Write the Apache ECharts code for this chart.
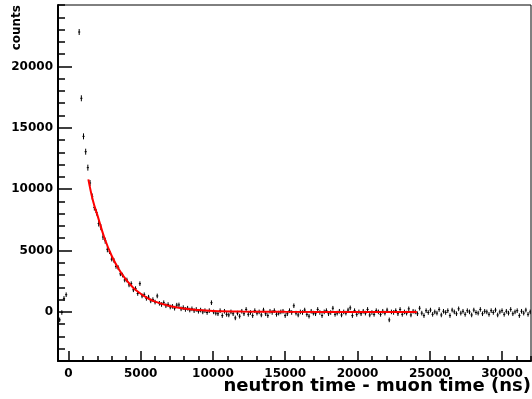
<!DOCTYPE html>
<html>
<head>
<meta charset="utf-8">
<script src="https://cdn.jsdelivr.net/npm/echarts@6/dist/echarts.min.js"></script>
<style>
  html, body { margin: 0; padding: 0; background: #fff; }
  #chart { width: 532px; height: 399px; }
</style>
</head>
<body>
<div id="chart"></div>
<script>
// histogram bins: centre of bin i = binStart + i * binWidth
var binStart = -605;
var binWidth = 150;

// counts per bin (null = off scale, above the frame)
var counts = [
  -650, -50, 1100, 1400, null, null, null, null, null, 22800, 17400, 14300, 13050, 11750, 10500,
  9400, 8500, 8100, 7200, 6900, 6100, 5800, 5100, 4900, 4300, 4200, 3700, 3600, 3100, 3000,
  2600, 2600, 2200, 2300, 1800, 1900, 1500, 2300, 1300, 1400, 1100, 1200, 900, 1000, 800,
  1300, 700, 600, 750, 500, 600, 400, 450, 300, 550, 570, 250, 350, 200, 300,
  150, 250, 100, 200, 50, 150, 0, 100, -50, 100, 750, 0, -100,
  -150, 100, -300, 50, -200, -250, 0, -150, -490, -100,
  -350, 50, -150, 200, -200, -50, -300, 100, -100, 0,
  -250, 150, -150, -300, 50, -50, 100, -200, -100, 0,
  50, -300, -150, 100, -50, 500, -100, -250, 0, -50,
  150, -200, -350, 50, -100, -150, 200, -50, -300, 0,
  100, -150, -50, 300, -200, -100, 50, -250, 0, -100,
  150, 330, -300, 100, -200, 0, -150, 50, -100, 200,
  -250, -50, -200, 100, 0, -200, 50, -100, 150, -650,
  0, -50, 100, -150, 200, -200, 0, -100, 250, -250,
  50, 0, -150, 300, -100, -300, 100, -50, 150, -200,
  0, -100, 200, -250, 50, -50, 100, -300, 150, 0,
  -150, 250, -100, 50, -200, 100, 0, -250, 150, -50,
  -100, 200, -150, 50, 0, -200, 100, -50, 150, -250,
  0, 100, -200, 50, -100, 200, -150, 0, 100, -300,
  50, -100, 150, -200, 0, 100, -50, 0, 0, 0
];

// exponential fit
var fitT = [1380, 1700, 2000, 2500, 3000, 3500, 4000, 4500, 5000, 5500, 6000, 7000, 8000, 9000, 10000, 12000, 15000, 20000, 24100];
var fitY = [10800, 9050, 7900, 6000, 4550, 3450, 2600, 1950, 1480, 1110, 840, 480, 270, 150, 80, 30, 5, 0, 0];

var xMajor = [0, 5000, 10000, 15000, 20000, 25000, 30000];
var yMajor = [0, 5000, 10000, 15000, 20000];

var xMinor = [];
for (var v = 0; v <= 32000; v += 1000) xMinor.push(v);
var yMinor = [];
for (var w = -3000; w <= 25000; w += 1000) yMinor.push(w);

var histData = [];
counts.forEach(function (c, i) {
  if (c !== null) histData.push([binStart + i * binWidth, c]);
});
var fitData = fitT.map(function (t, i) { return [t, fitY[i]]; });

var font = 'DejaVu Sans';
var plain = function (val) { return String(val); };
var chart = echarts.init(document.getElementById('chart'));

var option = {
  animation: false,
  grid: {
    left: 58, top: 5, right: 1, bottom: 38,
    show: true, borderColor: '#000', borderWidth: 1
  },
  xAxis: [{
    type: 'value', min: -720, max: 32000,
    axisLine: { show: true, onZero: false, lineStyle: { color: '#000', width: 2 } },
    axisTick: { show: true, inside: true, length: 10, customValues: xMajor, lineStyle: { color: '#000', width: 1.5 } },
    axisLabel: { customValues: xMajor, formatter: plain, color: '#000', fontFamily: font, fontWeight: 'bold', fontSize: 12, margin: 7 },
    splitLine: { show: false }
  }, {
    type: 'value', min: -720, max: 32000, position: 'bottom',
    axisLine: { show: false, onZero: false },
    axisTick: { show: true, inside: true, length: 5, customValues: xMinor, lineStyle: { color: '#000', width: 1.5 } },
    axisLabel: { show: false },
    splitLine: { show: false }
  }],
  yAxis: [{
    type: 'value', min: -4000, max: 25000,
    axisLine: { show: true, onZero: false, lineStyle: { color: '#000', width: 2 } },
    axisTick: { show: true, inside: true, length: 14, customValues: yMajor, lineStyle: { color: '#000', width: 1.5 } },
    axisLabel: { customValues: yMajor, formatter: plain, color: '#000', fontFamily: font, fontWeight: 'bold', fontSize: 12, margin: 5 },
    splitLine: { show: false }
  }, {
    type: 'value', min: -4000, max: 25000, position: 'left',
    axisLine: { show: false, onZero: false },
    axisTick: { show: true, inside: true, length: 7, customValues: yMinor, lineStyle: { color: '#000', width: 1.5 } },
    axisLabel: { show: false },
    splitLine: { show: false }
  }],
  graphic: [{
    type: 'text', right: 1, top: 377,
    style: { text: 'neutron time - muon time (ns)', fill: '#000', font: 'bold 18px "DejaVu Sans"' }
  }, {
    type: 'text', x: 23, y: 5, rotation: Math.PI / 2,
    style: { text: 'counts', fill: '#000', font: 'bold 12px "DejaVu Sans"', textAlign: 'right', textVerticalAlign: 'bottom' }
  }],
  series: [{
    type: 'custom',
    xAxisIndex: 0, yAxisIndex: 0,
    clip: true,
    data: histData,
    renderItem: function (params, api) {
      var x = api.value(0), y = api.value(1);
      var c = api.coord([x, y]);
      var l = api.coord([x - binWidth / 2, y]);
      var r = api.coord([x + binWidth / 2, y]);
      var h = y > 5000 ? 3 : 2.3;
      return {
        type: 'group',
        children: [
          { type: 'line', shape: { x1: c[0], y1: c[1] - h, x2: c[0], y2: c[1] + h }, style: { stroke: '#000', lineWidth: 1 } },
          { type: 'line', shape: { x1: l[0], y1: c[1], x2: r[0], y2: c[1] }, style: { stroke: '#000', lineWidth: 1 } }
        ]
      };
    }
  }, {
    type: 'line',
    xAxisIndex: 0, yAxisIndex: 0,
    data: fitData,
    smooth: 0.4,
    showSymbol: false,
    lineStyle: { color: '#ff0000', width: 2 },
    z: 5
  }]
};

chart.setOption(option);
</script>
</body>
</html>
